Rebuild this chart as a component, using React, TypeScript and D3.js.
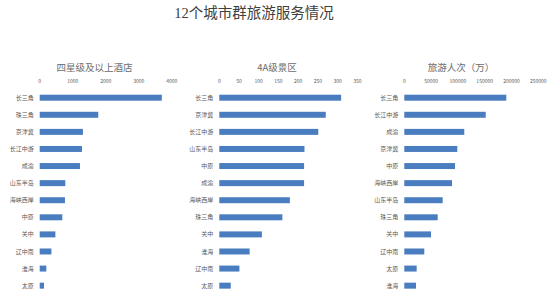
import React from "react";
import * as d3 from "d3";

const W = 554;
const H = 302;

const title = "12个城市群旅游服务情况";

const hotelCats = ["长三角", "珠三角", "京津冀", "长江中游", "成渝", "山东半岛", "海峡西岸", "中原", "关中", "辽中南", "淮海", "太原"];
const hotelVals = [3700, 1775, 1310, 1280, 1220, 775, 765, 685, 475, 355, 200, 130];
const hotelTicks = [0, 1000, 2000, 3000, 4000];

const sceneCats = ["长三角", "京津冀", "长江中游", "山东半岛", "中原", "成渝", "海峡西岸", "珠三角", "关中", "淮海", "辽中南", "太原"];
const sceneVals = [309, 270, 251, 216, 215, 215, 179, 160, 108, 77, 51, 29];
const sceneTicks = [0, 50, 100, 150, 200, 250, 300, 350];

const touristCats = ["长三角", "长江中游", "成渝", "京津冀", "中原", "海峡西岸", "山东半岛", "珠三角", "关中", "辽中南", "太原", "淮海"];
const touristVals = [190300, 151900, 111900, 98900, 94600, 89000, 71600, 62300, 49800, 37300, 23100, 21800];
const touristTicks = [0, 50000, 100000, 150000, 200000, 250000];

const FONT = "'Noto Sans CJK SC', 'Noto Sans', sans-serif";
const TITLE_FONT = "'Liberation Serif', 'Noto Sans CJK SC', serif";
const BAR = "#4a7dbf";
const GRAY = "#595959";

type PanelProps = {
  name: string;
  cats: string[];
  vals: number[];
  ticks: number[];
  x0: number;
  x1: number;
  titleX: number;
};

function Panel({ name, cats, vals, ticks, x0, x1, titleX }: PanelProps) {
  const x = d3.scaleLinear().domain([0, ticks[ticks.length - 1]]).range([x0, x1]);
  const y = d3.scaleBand<string>().domain(cats).range([89.15, 294.2]).paddingInner(0.65).paddingOuter(0.325);
  return (
    <g>
      <text x={titleX} y={70.5} textAnchor="middle" fontSize={9.5} fill="#6b6b6b" fontFamily={FONT}>{name}</text>
      {ticks.map((t) => (
        <text key={t} x={x(t)} y={82.8} textAnchor="middle" fontSize={5} fill={GRAY} fontFamily={FONT}>{t}</text>
      ))}
      {cats.map((c, i) => (
        <g key={c}>
          <rect x={x(0)} y={y(c)!} width={x(vals[i]) - x(0)} height={y.bandwidth()} fill={BAR} />
          <text x={x0 - 6} y={y(c)! + y.bandwidth() / 2 + 2.1} textAnchor="end" fontSize={6} fill={GRAY} fontFamily={FONT}>{c}</text>
        </g>
      ))}
    </g>
  );
}

export default function App() {
  return (
    <svg width={W} height={H} style={{ position: "absolute", left: 0, top: 0, background: "#fff" }}>
      <rect width={W} height={H} fill="#fff" />
      <text x={254} y={17.5} textAnchor="middle" fontSize={14.5} fill="#404040" fontFamily={TITLE_FONT}>{title}</text>
      <Panel name="四星级及以上酒店" cats={hotelCats} vals={hotelVals} ticks={hotelTicks} x0={39.7} x1={171.7} titleX={94.5} />
      <Panel name="4A级景区" cats={sceneCats} vals={sceneVals} ticks={sceneTicks} x0={219.3} x1={357.3} titleX={277} />
      <Panel name="旅游人次（万）" cats={touristCats} vals={touristVals} ticks={touristTicks} x0={404.3} x1={538.3} titleX={461} />
    </svg>
  );
}
